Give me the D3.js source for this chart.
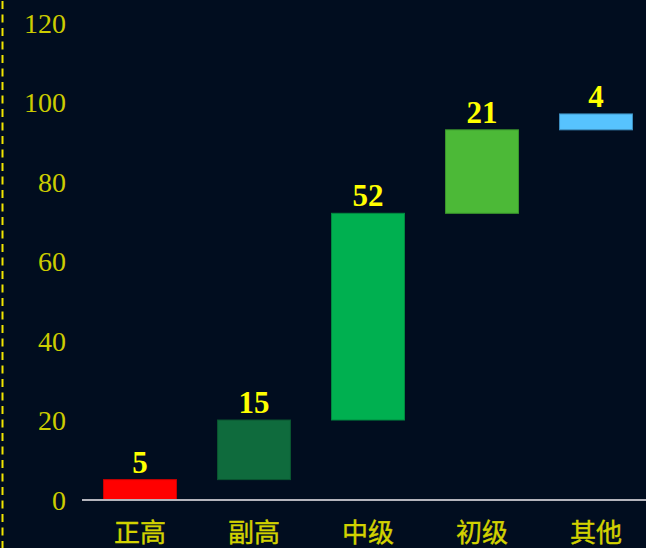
<!DOCTYPE html>
<html>
<head>
<meta charset="utf-8">
<script src="https://cdn.jsdelivr.net/npm/d3@7.9.0/dist/d3.min.js"></script>
<style>
  html, body { margin: 0; padding: 0; background: #010d1f; }
  svg { display: block; }
</style>
</head>
<body>
<svg id="chart" width="646" height="548"></svg>
<script>
// chart data
const categories = ['正高', '副高', '中级', '初级', '其他'];
const values = [5, 15, 52, 21, 4];
const barColors = ['#ff0000', '#0f6b3d', '#00b050', '#4cb937', '#57c3fe'];
const strokeColors = ['#c80000', '#0a5530', '#008a40', '#3b962c', '#3d8fc0'];
const yTicks = [0, 20, 40, 60, 80, 100, 120];

// waterfall steps: each bar starts where the previous ended
let running = 0;
const steps = values.map((v, i) => {
  const d = { cat: categories[i], value: v, start: running, end: running + v, i };
  running += v;
  return d;
});

const svg = d3.select('#chart');

const x = d3.scaleBand()
  .domain(categories)
  .range([83, 653])
  .paddingInner(0.36)
  .paddingOuter(0.18);

const y = d3.scaleLinear()
  .domain([0, 120])
  .range([499.5, 22.5]);

// dashed yellow line at the left edge
svg.append('line')
  .attr('x1', 2.5).attr('x2', 2.5)
  .attr('y1', 0).attr('y2', 548)
  .attr('stroke', '#f2e600')
  .attr('stroke-width', 2)
  .attr('stroke-dasharray', '8,5.5')
  .attr('stroke-dashoffset', -1);

// y axis labels only (no line, no ticks)
const yAxis = d3.axisLeft(y).tickValues(yTicks).tickSize(0).tickPadding(0);
svg.append('g')
  .attr('transform', 'translate(66,0)')
  .call(yAxis)
  .call(g => g.select('.domain').remove())
  .call(g => g.selectAll('text')
    .attr('fill', '#cccc00')
    .attr('font-family', '"Liberation Serif", "DejaVu Serif", serif')
    .attr('font-size', 28)
    .attr('dy', '0.34em'));

// bars
svg.append('g')
  .selectAll('rect')
  .data(steps)
  .join('rect')
  .attr('x', d => x(d.cat))
  .attr('width', x.bandwidth())
  .attr('y', d => y(d.end))
  .attr('height', d => y(d.start) - y(d.end))
  .attr('fill', d => barColors[d.i])
  .attr('stroke', d => strokeColors[d.i])
  .attr('stroke-width', 1);

// value labels
svg.append('g')
  .selectAll('text')
  .data(steps)
  .join('text')
  .attr('x', d => x(d.cat) + x.bandwidth() / 2)
  .attr('y', d => y(d.end) - 7)
  .attr('text-anchor', 'middle')
  .attr('fill', '#ffff00')
  .attr('font-family', '"Liberation Serif", "DejaVu Serif", serif')
  .attr('font-weight', 'bold')
  .attr('font-size', 31)
  .text(d => d.value);

// x axis
const xAxis = d3.axisBottom(x).tickSize(0).tickPadding(0);
svg.append('g')
  .attr('transform', 'translate(0,500)')
  .call(xAxis)
  .call(g => g.select('.domain').remove())
  .call(g => g.selectAll('text')
    .attr('fill', '#d2d200')
    .attr('font-family', '"Noto Sans CJK SC", sans-serif')
    .attr('font-size', 26)
    .attr('stroke', '#d2d200')
    .attr('stroke-width', 0.4)
    .attr('y', 42)
    .attr('dy', 0));

svg.append('line')
  .attr('x1', 82).attr('x2', 646)
  .attr('y1', 500).attr('y2', 500)
  .attr('stroke', '#b4b4bc')
  .attr('stroke-width', 2);
</script>
</body>
</html>
